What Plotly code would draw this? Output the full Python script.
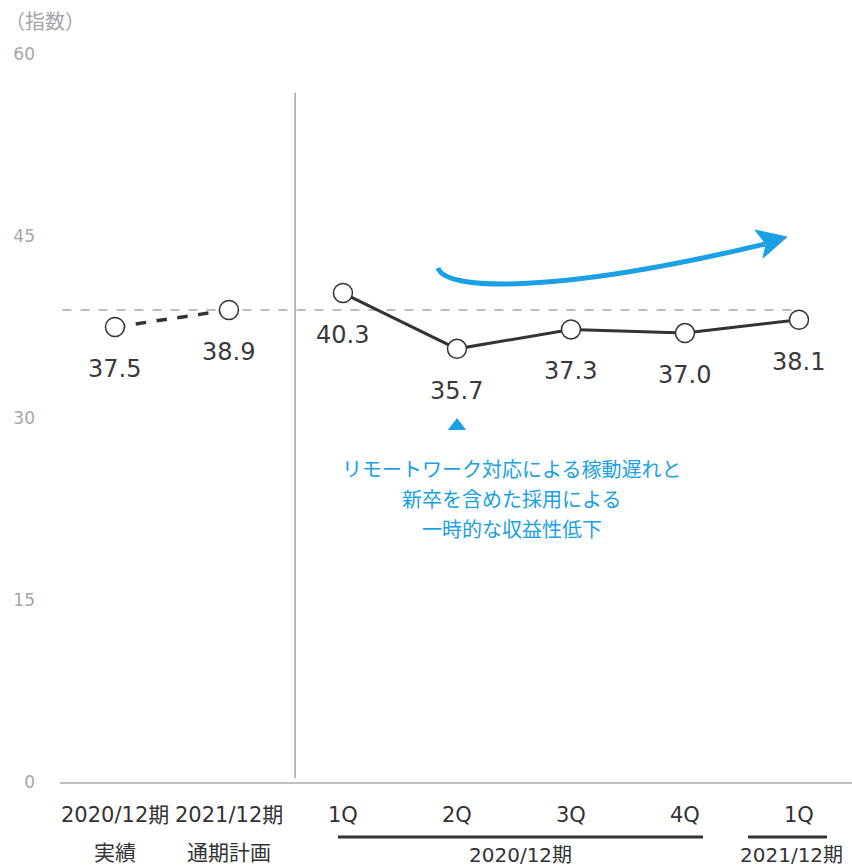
import plotly.graph_objects as go

# Values
labels_top = ["2020/12期", "2021/12期", "1Q", "2Q", "3Q", "4Q", "1Q"]
labels_sub = ["実績", "通期計画"]
index_values = [37.5, 38.9, 40.3, 35.7, 37.3, 37.0, 38.1]
plan_value = 38.9
y_ticks = [0, 15, 30, 45, 60]
period_labels = ["2020/12期", "2021/12期"]
note_lines = ["リモートワーク対応による稼動遅れと", "新卒を含めた採用による", "一時的な収益性低下"]

FONT = "DejaVu Sans, Noto Sans CJK JP, sans-serif"
DARK = "#333333"
BLUE = "#1aa0e3"
GRAY = "#a6a6a6"

PLOT_TOP, PLOT_BOTTOM = 54, 782


def py_to_paper(py):
    # vertical pixel position -> paper fraction of the plot area
    return (PLOT_BOTTOM - py) / (PLOT_BOTTOM - PLOT_TOP)


xs = list(range(len(index_values)))

fig = go.Figure()

# annual: actual -> plan (dashed)
fig.add_trace(go.Scatter(
    x=xs[:2], y=index_values[:2], mode="lines",
    line=dict(color=DARK, width=3.5, dash="dash"), hoverinfo="skip"))
# quarterly series
fig.add_trace(go.Scatter(
    x=xs[2:], y=index_values[2:], mode="lines",
    line=dict(color=DARK, width=3), hoverinfo="skip"))
# markers
fig.add_trace(go.Scatter(
    x=xs, y=index_values, mode="markers",
    marker=dict(size=19, color="white", line=dict(color=DARK, width=1.5)),
    hoverinfo="skip"))
# blue pointer under 2Q
fig.add_trace(go.Scatter(
    x=[3], y=[29.35], mode="markers",
    marker=dict(symbol="triangle-up", size=16, color=BLUE, line=dict(width=0)),
    hoverinfo="skip"))

# value labels under each point
for x, v in zip(xs, index_values):
    fig.add_annotation(x=x, y=v, text=f"{v:.1f}", showarrow=False,
                       yshift=-42, font=dict(family=FONT, size=24, color="#3a3a3a"))

# x-axis labels (first row)
for x, t in zip(xs, labels_top):
    fig.add_annotation(x=x, yref="paper", y=py_to_paper(815), text=t,
                       showarrow=False, yanchor="middle",
                       font=dict(family=FONT, size=21, color=DARK))
# second row under annual columns
for x, t in zip(xs[:2], labels_sub):
    fig.add_annotation(x=x, yref="paper", y=py_to_paper(853), text=t,
                       showarrow=False, yanchor="middle",
                       font=dict(family=FONT, size=21, color=DARK))
# fiscal-year group labels
fig.add_annotation(x=3.56, yref="paper", y=py_to_paper(855), text=period_labels[0],
                   showarrow=False, yanchor="middle",
                   font=dict(family=FONT, size=20, color=DARK))
fig.add_annotation(x=5.93, yref="paper", y=py_to_paper(855), text=period_labels[1],
                   showarrow=False, yanchor="middle",
                   font=dict(family=FONT, size=20, color=DARK))

# group brackets
fig.add_shape(type="line", xref="x", yref="paper", x0=1.956, x1=5.158,
              y0=py_to_paper(837), y1=py_to_paper(837),
              line=dict(color=DARK, width=3))
fig.add_shape(type="line", xref="x", yref="paper", x0=5.553, x1=6.246,
              y0=py_to_paper(837), y1=py_to_paper(837),
              line=dict(color=DARK, width=3))

# plan reference line
fig.add_shape(type="line", x0=-0.46, x1=6.0, y0=plan_value, y1=plan_value,
              line=dict(color=GRAY, width=1.5, dash="dash"), layer="below")
# separator between annual and quarterly sections
fig.add_shape(type="line", x0=1.58, x1=1.58, y0=0.3, y1=56.8,
              line=dict(color="#8c8c8c", width=1.2), layer="below")


# curved trend arrow (pixel positions mapped to data coordinates)
def px_to_data(px, py):
    return (px - 115) / 114.0, (782 - py) / 12.133


p0 = px_to_data(438, 268)
c1 = px_to_data(446, 292)
c2 = px_to_data(560, 293)
p1 = px_to_data(765, 244)
path = (f"M {p0[0]},{p0[1]} C {c1[0]},{c1[1]} {c2[0]},{c2[1]} {p1[0]},{p1[1]}")
fig.add_shape(type="path", path=path, line=dict(color=BLUE, width=5))
h_tip = px_to_data(787, 237)
h_a = px_to_data(755, 230)
h_b = px_to_data(763, 258)
h_in = px_to_data(766, 244)
head = (f"M {h_tip[0]},{h_tip[1]} L {h_a[0]},{h_a[1]} L {h_in[0]},{h_in[1]} "
        f"L {h_b[0]},{h_b[1]} Z")
fig.add_shape(type="path", path=head, fillcolor=BLUE, line=dict(color=BLUE, width=1))

# note text, one annotation per line for even spacing
for i, line in enumerate(note_lines):
    fig.add_annotation(x=3.48, yref="paper", y=py_to_paper(470 + 30 * i), text=line,
                       showarrow=False, yanchor="middle",
                       font=dict(family=FONT, size=20, color=BLUE))

# unit label
fig.add_annotation(xref="paper", yref="paper", x=-0.072, y=py_to_paper(22),
                   xanchor="left", yanchor="middle", text="（指数）",
                   showarrow=False, font=dict(family=FONT, size=20, color=GRAY))

fig.update_layout(
    width=852, height=866,
    margin=dict(l=60, r=0, t=54, b=84),
    plot_bgcolor="white", paper_bgcolor="white",
    showlegend=False,
    xaxis=dict(range=[-0.482, 6.465], showgrid=False, zeroline=False,
               showticklabels=False, ticks="", showline=True,
               linecolor="#bfbfbf", linewidth=2),
    yaxis=dict(range=[0, 60], tickvals=y_ticks, showgrid=False, zeroline=False,
               showline=False, ticks="", ticklabelstandoff=24,
               tickfont=dict(family=FONT, size=17, color=GRAY)),
)

fig.write_html("out.html")
